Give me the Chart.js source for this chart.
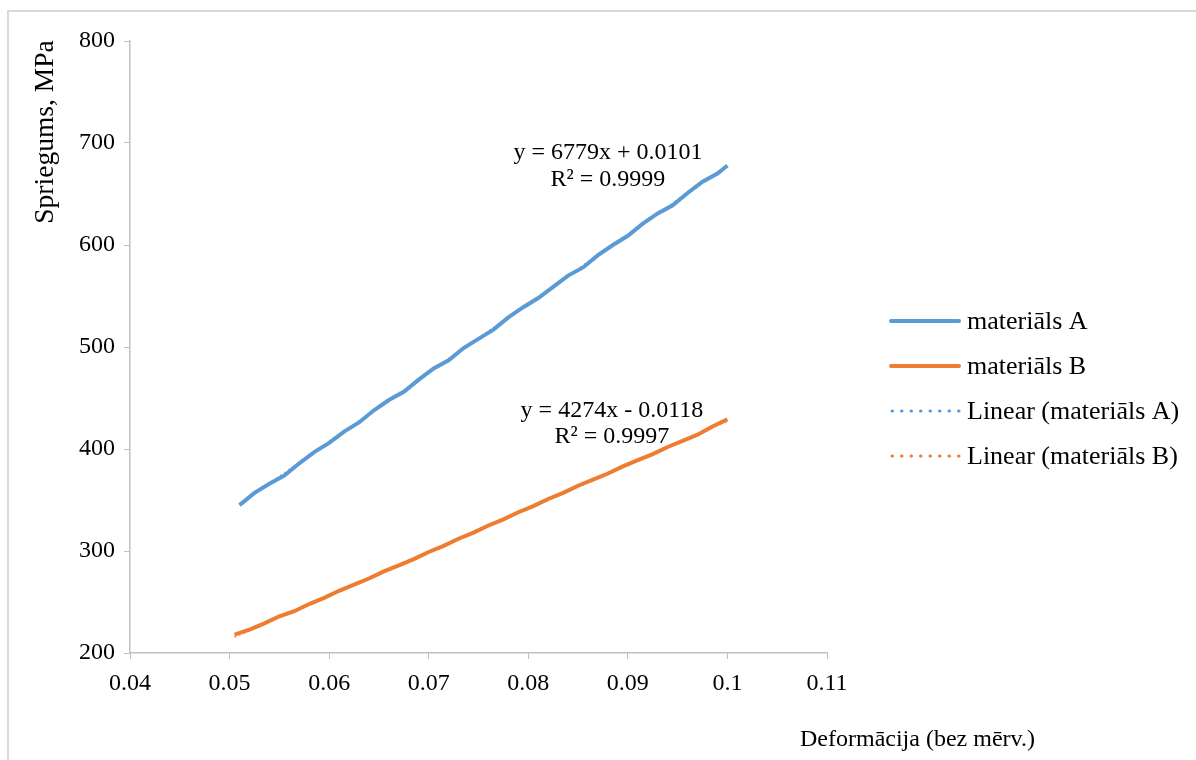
<!DOCTYPE html>
<html>
<head>
<meta charset="utf-8">
<script src="https://cdn.jsdelivr.net/npm/chart.js@4"></script>
<style>
  html, body { margin: 0; padding: 0; background: #fff; }
  #wrap { width: 1196px; height: 760px; }
</style>
</head>
<body>
<div id="wrap"><canvas id="myChart" width="1196" height="760"></canvas></div>
<script>
// values
const strainA = [0.051, 0.0525, 0.054, 0.0555, 0.057, 0.0585, 0.060, 0.0615, 0.063, 0.0645, 0.066, 0.0675, 0.069, 0.0705, 0.072, 0.0735, 0.075, 0.0765, 0.078, 0.0795, 0.081, 0.0825, 0.084, 0.0855, 0.087, 0.0885, 0.090, 0.0915, 0.093, 0.0945, 0.096, 0.0975, 0.099, 0.100];
const stressA = [345, 357, 366, 374, 386, 397, 406, 417, 426, 438, 448, 456, 468, 479, 487, 499, 508, 517, 529, 539, 548, 559, 570, 578, 590, 600, 609, 621, 631, 639, 651, 662, 670, 678];
const strainB = [0.0505, 0.052, 0.0535, 0.055, 0.0565, 0.058, 0.0595, 0.061, 0.0625, 0.064, 0.0655, 0.067, 0.0685, 0.070, 0.0715, 0.073, 0.0745, 0.076, 0.0775, 0.079, 0.0805, 0.082, 0.0835, 0.085, 0.0865, 0.088, 0.0895, 0.091, 0.0925, 0.094, 0.0955, 0.097, 0.0985, 0.100];
const stressB = [218, 223, 229, 236, 241, 248, 254, 261, 267, 273, 280, 286, 292, 299, 305, 312, 318, 325, 331, 338, 344, 351, 357, 364, 370, 376, 383, 389, 395, 402, 408, 414, 422, 429];
// trendline end points
const trendAx = [0.051, 0.100];
const trendAy = [345.7, 677.9];
const trendBx = [0.0505, 0.100];
const trendBy = [215.8, 427.4];

const seriesNames = ['materiāls A', 'materiāls B', 'Linear (materiāls A)', 'Linear (materiāls B)'];
const eqA = ['y = 6779x + 0.0101', 'R² = 0.9999'];
const eqB = ['y = 4274x - 0.0118', 'R² = 0.9997'];

const blue = '#5b9bd5';
const orange = '#ed7d31';
const serif = '"Liberation Serif", "Times New Roman", serif';

function pts(xs, ys) {
    return xs.map(function (x, i) { return { x: x, y: ys[i] }; });
}

const extras = {
    id: 'extras',
    beforeDraw: function (chart) {
        const c = chart.ctx;
        c.save();
        c.fillStyle = '#fff';
        c.fillRect(0, 0, chart.width, chart.height);
        c.strokeStyle = '#d9d9d9';
        c.lineWidth = 2;
        c.beginPath();
        c.moveTo(8, 800);
        c.lineTo(8, 11);
        c.lineTo(1200, 11);
        c.stroke();
        c.restore();
    },
    afterDraw: function (chart) {
        const c = chart.ctx;
        const xs = chart.scales.x;
        c.save();
        c.fillStyle = '#000';
        c.font = '24px ' + serif;
        c.textAlign = 'center';
        c.textBaseline = 'middle';
        // trendline equations
        const ax = xs.getPixelForValue(0.088);
        c.fillText(eqA[0], ax, 153);
        c.fillText(eqA[1], ax, 180);
        const bx = xs.getPixelForValue(0.0884);
        c.fillText(eqB[0], bx, 411);
        c.fillText(eqB[1], bx, 437);
        // axis titles
        c.textAlign = 'left';
        c.fillText('Deformācija (bez mērv.)', 800, 740);
        c.font = '27.5px ' + serif;
        c.translate(46, 132);
        c.rotate(-Math.PI / 2);
        c.textAlign = 'center';
        c.fillText('Spriegums, MPa', 0, 0);
        c.restore();
        // legend
        c.save();
        const rows = [321, 366, 411, 456];
        const cols = [blue, orange, blue, orange];
        c.font = '26px ' + serif;
        c.textBaseline = 'middle';
        c.fillStyle = '#000';
        rows.forEach(function (y, i) {
            c.strokeStyle = cols[i];
            c.lineWidth = 4;
            c.lineCap = 'round';
            c.beginPath();
            if (i < 2) {
                c.setLineDash([]);
                c.moveTo(891, y);
                c.lineTo(959, y);
            } else {
                c.lineWidth = 3;
                c.setLineDash([0.5, 9]);
                c.moveTo(892, y);
                c.lineTo(960, y);
            }
            c.stroke();
            c.fillText(seriesNames[i], 967, y + 1);
        });
        c.restore();
    }
};

const ctx = document.getElementById('myChart').getContext('2d');
new Chart(ctx, {
    type: 'scatter',
    data: {
        datasets: [{
            label: seriesNames[0],
            data: pts(strainA, stressA),
            showLine: true,
            borderColor: blue,
            borderWidth: 4,
            pointRadius: 0,
            order: 1
        }, {
            label: seriesNames[1],
            data: pts(strainB, stressB),
            showLine: true,
            borderColor: orange,
            borderWidth: 4,
            pointRadius: 0,
            order: 1
        }, {
            label: seriesNames[2],
            data: pts(trendAx, trendAy),
            showLine: true,
            borderColor: blue,
            borderWidth: 2.5,
            borderDash: [1, 4],
            pointRadius: 0,
            order: 0
        }, {
            label: seriesNames[3],
            data: pts(trendBx, trendBy),
            showLine: true,
            borderColor: orange,
            borderWidth: 2.5,
            borderDash: [1, 4],
            pointRadius: 0,
            order: 0
        }]
    },
    options: {
        responsive: false,
        animation: false,
        devicePixelRatio: 1,
        layout: { padding: { left: 70, top: 41, right: 369, bottom: 67 } },
        plugins: {
            legend: { display: false },
            tooltip: { enabled: false }
        },
        scales: {
            x: {
                type: 'linear',
                min: 0.04,
                max: 0.11,
                ticks: {
                    stepSize: 0.01,
                    color: '#000',
                    font: { family: serif, size: 24 },
                    padding: 10,
                    maxRotation: 0,
                    callback: function (v) { return String(Number(v.toFixed(2))); }
                },
                grid: { drawOnChartArea: false, drawTicks: true, tickLength: 6, color: '#bfbfbf' },
                border: { color: '#bfbfbf', width: 1.5 },
                afterFit: function (s) { s.height = 40; }
            },
            y: {
                min: 200,
                max: 800,
                ticks: {
                    stepSize: 100,
                    color: '#000',
                    font: { family: serif, size: 24 },
                    padding: 9
                },
                grid: { drawOnChartArea: false, drawTicks: true, tickLength: 6, color: '#bfbfbf' },
                border: { color: '#bfbfbf', width: 1.5 },
                afterFit: function (s) { s.width = 60; }
            }
        }
    },
    plugins: [extras]
});
</script>
</body>
</html>
